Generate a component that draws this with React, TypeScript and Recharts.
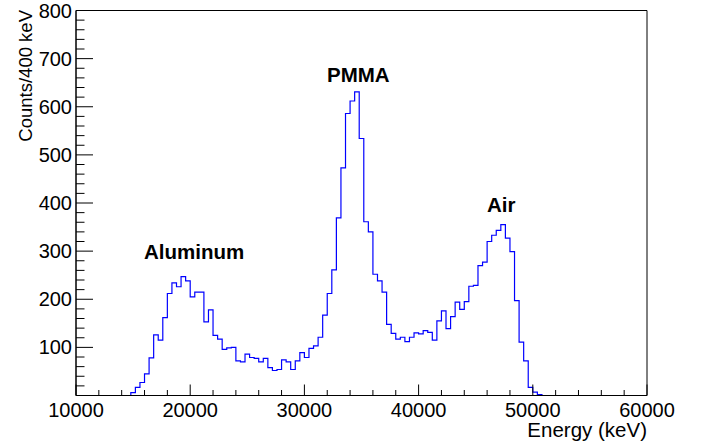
import React from 'react';
import { ComposedChart, Line, XAxis, YAxis, ReferenceArea } from 'recharts';

// histogram: 400 keV bins from 10000 to 60000 keV
const E_MIN = 10000;
const E_MAX = 60000;
const BIN_WIDTH = 400;

// 10000 .. 14400
const lowTailCounts = [0, 0, 0, 0, 0, 0, 0, 0, 0, 0, 0, 0];
// 14800 .. 24000  (Aluminum)
const aluminumCounts = [
  6, 17, 27, 45, 78, 126, 115, 162, 212, 234, 226, 247, 238, 205, 215, 215,
  153, 178, 125, 117, 96, 99, 100, 72,
];
// 24400 .. 31600
const valleyCounts = [
  70, 86, 79, 77, 70, 77, 58, 52, 54, 74, 70, 54, 72, 89, 79, 98, 103, 121, 167,
];
// 32000 .. 37600  (PMMA)
const pmmaCounts = [212, 261, 369, 473, 586, 612, 631, 534, 361, 340, 252, 238, 215, 148, 129];
// 38000 .. 44000
const plateauCounts = [117, 121, 112, 121, 130, 128, 135, 131, 115, 155, 176, 139, 164, 194, 179, 195];
// 44400 .. 50400  (Air)
const airCounts = [227, 229, 270, 277, 320, 333, 343, 355, 327, 299, 197, 111, 72, 17, 7, 2];
// 50800 .. 59600
const highTailCounts = [
  0, 0, 0, 0, 0, 0, 0, 0, 0, 0, 0, 0, 0, 0, 0, 0, 0, 0, 0, 0, 0, 0, 0,
];

const xLabels = [10000, 20000, 30000, 40000, 50000, 60000];
const yLabels = [100, 200, 300, 400, 500, 600, 700, 800];

const peakLabels = [
  { text: 'Aluminum', x: 144, y: 259 },
  { text: 'PMMA', x: 327, y: 82 },
  { text: 'Air', x: 487, y: 212 },
];

const counts = [
  ...lowTailCounts,
  ...aluminumCounts,
  ...valleyCounts,
  ...pmmaCounts,
  ...plateauCounts,
  ...airCounts,
  ...highTailCounts,
];

const data = counts.map((c, i) => ({ e: E_MIN + i * BIN_WIDTH, c }));
data.push({ e: E_MAX, c: counts[counts.length - 1] });

const xTicks: number[] = [];
for (let v = E_MIN; v <= E_MAX; v += 2000) xTicks.push(v);
const yTicks: number[] = [];
for (let v = 0; v <= 800; v += 20) yTicks.push(v);

const FONT = 'Liberation Sans, Arial, Helvetica, sans-serif';

const XTick = (props: any) => {
  const { x, y, payload } = props;
  const v = payload.value;
  const major = v % 10000 === 0;
  return (
    <g>
      <line x1={x} x2={x} y1={y} y2={y - (major ? 11 : 5.5)} stroke="#000" strokeWidth={1} />
      {xLabels.includes(v) && (
        <text x={x} y={y + 21} textAnchor="middle" fontSize={20} fontFamily={FONT} fill="#000">
          {v}
        </text>
      )}
    </g>
  );
};

const YTick = (props: any) => {
  const { x, y, payload } = props;
  const v = payload.value;
  const major = v % 100 === 0;
  return (
    <g>
      <line x1={x} x2={x + (major ? 17 : 8.5)} y1={y} y2={y} stroke="#000" strokeWidth={1} />
      {yLabels.includes(v) && (
        <text x={x - 4} y={y + 7} textAnchor="end" fontSize={20} fontFamily={FONT} fill="#000">
          {v}
        </text>
      )}
    </g>
  );
};

export default function App() {
  return (
    <div style={{ position: 'absolute', left: 0, top: 0, width: 702, height: 446, background: '#fff' }}>
      <ComposedChart
        width={702}
        height={446}
        data={data}
        margin={{ top: 10.5, right: 55, bottom: 0.5, left: 0 }}
      >
        <XAxis
          dataKey="e"
          type="number"
          domain={[E_MIN, E_MAX]}
          ticks={xTicks}
          interval={0}
          height={50}
          tickSize={0}
          tickMargin={0}
          tickLine={false}
          axisLine={{ stroke: '#000' }}
          tick={<XTick />}
          allowDataOverflow
        />
        <YAxis
          type="number"
          domain={[0, 800]}
          ticks={yTicks}
          interval={0}
          width={76}
          tickSize={0}
          tickMargin={0}
          tickLine={false}
          axisLine={{ stroke: '#000' }}
          tick={<YTick />}
          allowDataOverflow
        />
        <ReferenceArea
          x1={E_MIN}
          x2={E_MAX}
          y1={0}
          y2={800}
          fill="none"
          fillOpacity={0}
          stroke="#000"
          strokeWidth={1}
        />
        <Line
          type="stepAfter"
          dataKey="c"
          stroke="#0000ff"
          strokeWidth={1.2}
          dot={false}
          isAnimationActive={false}
        />
      </ComposedChart>
      <svg
        width={702}
        height={446}
        style={{ position: 'absolute', left: 0, top: 0, pointerEvents: 'none' }}
      >
        <text
          transform="translate(32,10) rotate(-90)"
          textAnchor="end"
          fontSize={18.5}
          fontFamily={FONT}
          fill="#000"
        >
          Counts/400 keV
        </text>
        <text x={647} y={437} textAnchor="end" fontSize={20.5} fontFamily={FONT} fill="#000">
          Energy (keV)
        </text>
        {peakLabels.map((p) => (
          <text
            key={p.text}
            x={p.x}
            y={p.y}
            fontSize={20.5}
            fontWeight="bold"
            fontFamily={FONT}
            fill="#000"
          >
            {p.text}
          </text>
        ))}
      </svg>
    </div>
  );
}
